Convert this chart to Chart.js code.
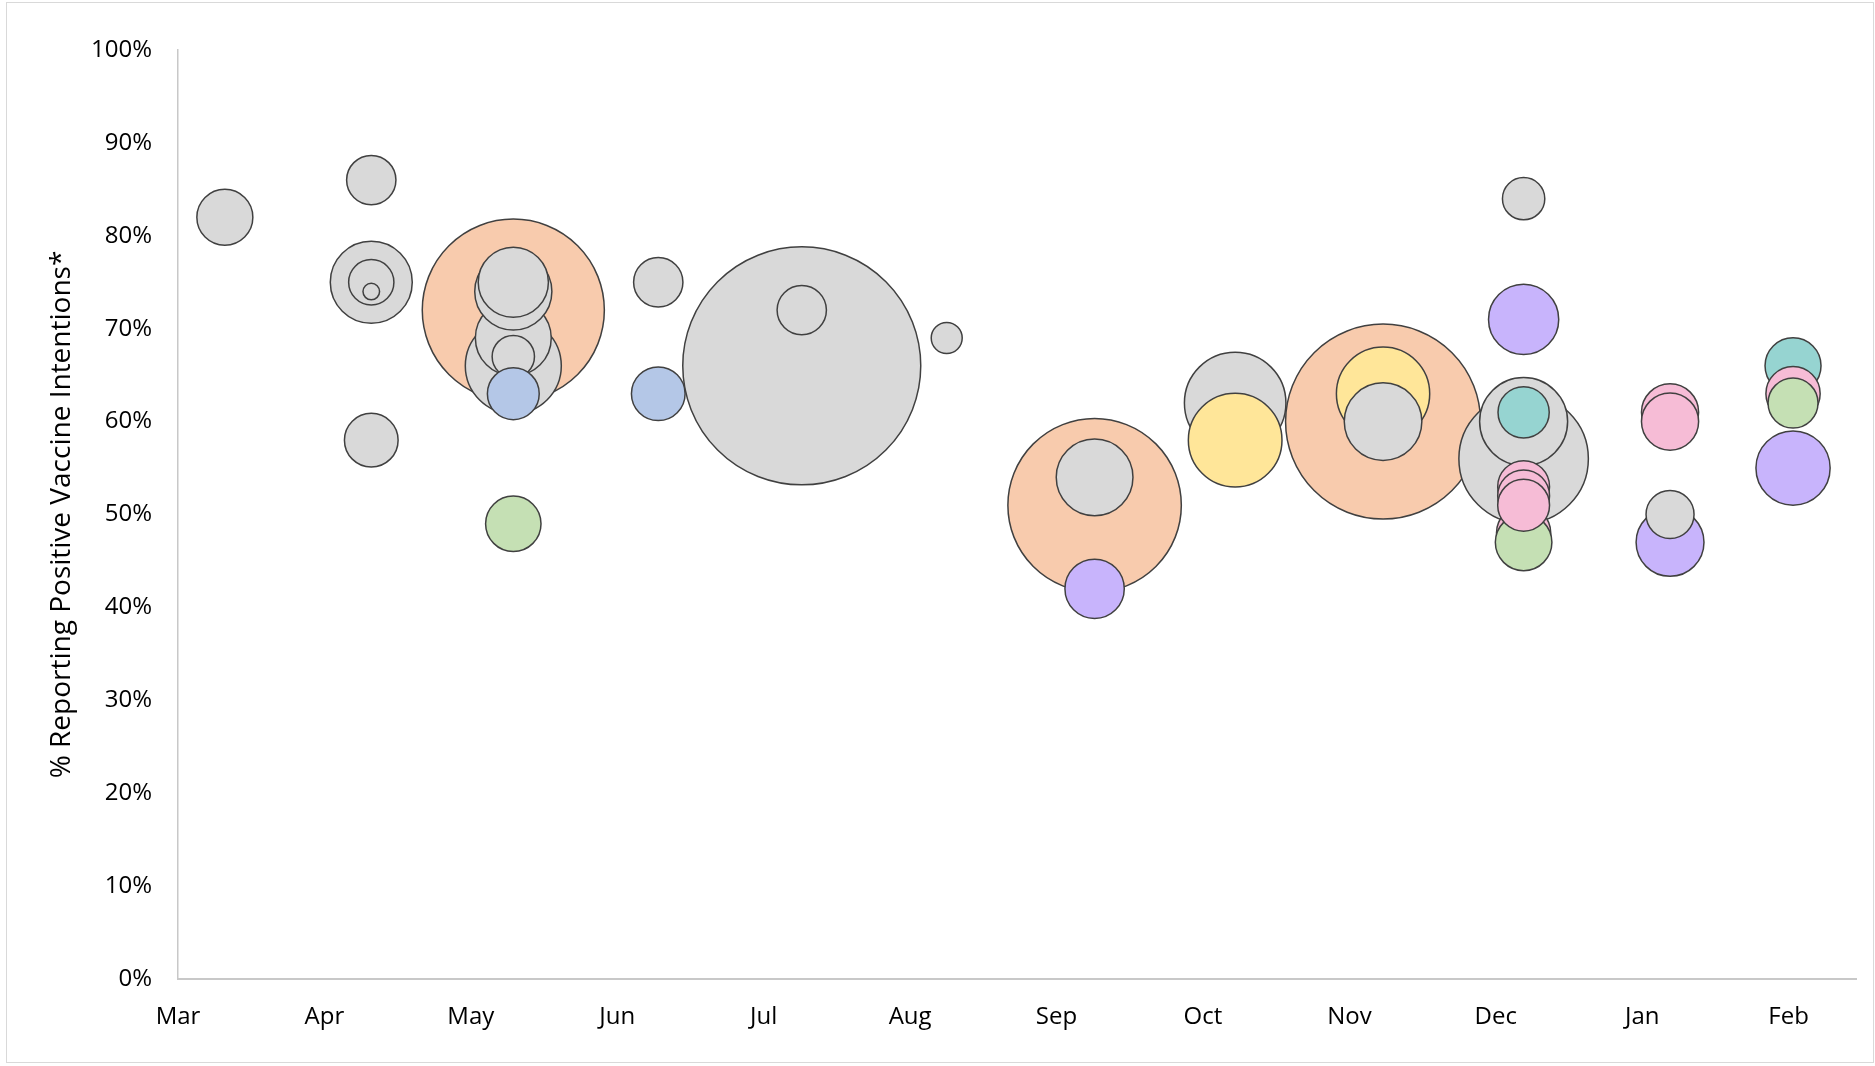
<!DOCTYPE html>
<html>
<head>
<meta charset="utf-8">
<script src="https://cdn.jsdelivr.net/npm/chart.js@4.4.1/dist/chart.umd.min.js"></script>
<style>
  html, body { margin: 0; padding: 0; background: #fff; }
  .wrap { position: relative; width: 1875px; height: 1066px; }
  .frame { position: absolute; left: 6px; top: 2px; width: 1866px; height: 1059px; border: 1px solid #d9d9d9; pointer-events: none; }
</style>
</head>
<body>
<div class="wrap">
  <canvas id="chart" width="1875" height="1066"></canvas>
  <div class="frame"></div>
</div>
<script>
// month tick labels (x = months since start of March)
const monthLabels = ['Mar','Apr','May','Jun','Jul','Aug','Sep','Oct','Nov','Dec','Jan','Feb'];

// one entry per survey bubble, listed in drawing order
const surveyMonth = [0.32,
  1.32, 1.32, 1.32, 1.32, 1.32,
  2.29, 2.29, 2.29, 2.29, 2.29, 2.29, 2.29, 2.29,
  4.26, 4.26,
  3.28, 3.28,
  5.25,
  6.26, 6.26, 6.26,
  7.22, 7.22,
  8.23, 8.23, 8.23,
  9.19, 9.19, 9.19, 9.19, 9.19, 9.19, 9.19, 9.19, 9.19, 9.19,
  10.19, 10.19, 10.19, 10.19,
  11.03, 11.03, 11.03, 11.03];
const positivePct = [82,
  86, 75, 75, 74, 58,
  72, 66, 69, 74, 75, 67, 63, 49,
  66, 72,
  75, 63,
  69,
  51, 54, 42,
  62, 58,
  60, 63, 60,
  84, 71, 56, 60, 61, 48, 47, 53, 52, 51,
  61, 60, 47, 50,
  55, 66, 63, 62];
// relative sample size (bubble area)
const sampleSize = [49,
  38, 105, 32, 4.3, 45,
  518, 144, 90, 93, 77, 28, 42, 48,
  885, 38,
  38, 45,
  15,
  470, 92, 55,
  161, 137,
  594, 136, 94,
  28, 77, 262, 121, 41, 46, 50, 42, 42, 42,
  51, 51, 72, 36,
  86, 49, 46, 39];
const surveyGroup = ['grey',
  'grey','grey','grey','grey','grey',
  'orange','grey','grey','grey','grey','grey','blue','green',
  'grey','grey',
  'grey','blue',
  'grey',
  'orange','grey','purple',
  'grey','yellow',
  'orange','yellow','grey',
  'grey','purple','grey','grey','teal','pink','green','pink','pink','pink',
  'pink','pink','purple','grey',
  'purple','teal','pink','green'];

const groupColors = {
  grey: '#d9d9d9', orange: '#f8cbad', blue: '#b4c7e7', green: '#c5e0b4',
  yellow: '#ffe699', purple: '#c8b4fc', teal: '#96d4d1', pink: '#f6bcd6'
};

const points = surveyMonth.map((m, i) => ({ x: m, y: positivePct[i], r: 4 * Math.sqrt(sampleSize[i]) }));

const fontFamily = "'Open Sans', sans-serif";

new Chart(document.getElementById('chart'), {
  type: 'bubble',
  data: {
    datasets: [{
      data: points,
      backgroundColor: surveyGroup.map(g => groupColors[g]),
      borderColor: '#404040',
      borderWidth: 1.5,
      clip: false
    }]
  },
  options: {
    responsive: false,
    animation: false,
    events: [],
    layout: { autoPadding: false, padding: { top: 50, right: 19, left: 0, bottom: 0 } },
    plugins: { legend: { display: false }, tooltip: { enabled: false } },
    scales: {
      x: {
        type: 'linear',
        min: 0,
        max: 11.46,
        afterFit: s => { s.height = 87; },
        afterBuildTicks: s => { s.ticks = monthLabels.map((_, i) => ({ value: i })); },
        grid: { drawOnChartArea: false, drawTicks: false },
        border: { color: '#c8c8c8', width: 2 },
        ticks: {
          padding: 24,
          color: '#000',
          font: { family: fontFamily, size: 24 },
          callback: v => monthLabels[v]
        }
      },
      y: {
        min: 0,
        max: 100,
        afterFit: s => { s.width = 178; },
        grid: { drawOnChartArea: false, drawTicks: false },
        border: { color: '#c8c8c8', width: 1.5 },
        ticks: {
          stepSize: 10,
          padding: 26,
          color: '#000',
          font: { family: fontFamily, size: 24 },
          callback: v => v + '%'
        },
        title: {
          display: true,
          text: '% Reporting Positive Vaccine Intentions*',
          color: '#000',
          font: { family: fontFamily, size: 28 },
          padding: { top: 45, bottom: 0 }
        }
      }
    }
  }
});
</script>
</body>
</html>
